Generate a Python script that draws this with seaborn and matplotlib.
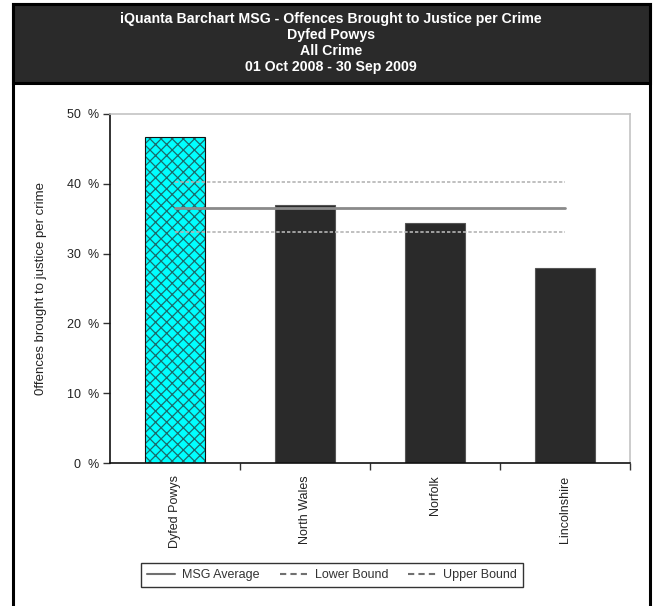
import matplotlib
matplotlib.use("Agg")
import matplotlib.pyplot as plt
import seaborn as sns
import pandas as pd
from matplotlib.patches import Rectangle
from matplotlib.lines import Line2D
from matplotlib.colors import to_rgba

# Data
forces = ["Dyfed Powys", "North Wales", "Norfolk", "Lincolnshire"]
obtj_rate = [46.7, 37.0, 34.4, 27.9]
msg_average = 36.5
lower_bound = 33.1
upper_bound = 40.2

title_lines = [
    "iQuanta Barchart MSG - Offences Brought to Justice per Crime",
    "Dyfed Powys",
    "All Crime",
    "01 Oct 2008 - 30 Sep 2009",
]

sns.set_style("white")
plt.rcParams["font.family"] = ["Liberation Sans", "DejaVu Sans"]
plt.rcParams["hatch.linewidth"] = 0.9

df = pd.DataFrame({"force": forces, "rate": obtj_rate})

W, H = 653, 606
fig = plt.figure(figsize=(W / 100, H / 100), dpi=100)
ax = fig.add_axes([110 / W, 1 - 463 / H, 520 / W, 349 / H])

colors = ["#00ffff"] + ["#2a2a2a"] * (len(forces) - 1)
sns.barplot(data=df, x="force", y="rate", hue="force", palette=colors,
            legend=False, width=0.46, ax=ax, saturation=1)

for i, bar in enumerate(ax.patches):
    if i == 0:
        bar.set_edgecolor("#111111")
        bar.set_linewidth(0.8)
        bar.set_hatch("xxx")
        bar._hatch_color = to_rgba("#1b6b6b")
    else:
        bar.set_edgecolor("#555555")
        bar.set_linewidth(0.8)

# MSG average and bounds, from first to last category
xs = list(range(len(forces)))
ax.plot(xs, [msg_average] * len(xs), color="#8a8a8a", lw=2, zorder=3)
ax.plot(xs, [upper_bound] * len(xs), color="#b5b5b5", lw=1.2,
        linestyle=(0, (2, 1.2)), zorder=3)
ax.plot(xs, [lower_bound] * len(xs), color="#b5b5b5", lw=1.2,
        linestyle=(0, (2, 1.2)), zorder=3)

ax.set_xlim(-0.5, len(forces) - 0.5)
ax.set_ylim(0, 50)
ax.set_yticks(range(0, 51, 10))
ax.set_yticklabels([f"{v}  %" for v in range(0, 51, 10)], fontsize=9,
                   color="#222222")
ax.tick_params(axis="y", direction="out", length=5, width=1, color="#333333",
               left=True, pad=3)

ax.set_xticks(xs)
ax.set_xticklabels(forces, rotation=90, fontsize=9, color="#222222",
                   va="top")
ax.tick_params(axis="x", which="major", length=0, pad=9)
ax.set_xticks([0.5, 1.5, 2.5, 3.5], minor=True)
ax.tick_params(axis="x", which="minor", direction="out", length=5, width=1,
               color="#333333", bottom=True)

ax.set_xlabel("")
ax.set_ylabel("0ffences brought to justice per crime", fontsize=9.5,
              color="#222222", labelpad=14)

for side in ["left", "bottom"]:
    ax.spines[side].set_color("#111111")
    ax.spines[side].set_linewidth(1.2)
for side in ["top", "right"]:
    ax.spines[side].set_color("#c4c4c4")
    ax.spines[side].set_linewidth(1.2)

# Header band and outer frame
fig.patches.append(Rectangle((13 / W, -0.05), 637 / W, 1 - 4 / H + 0.05,
                             transform=fig.transFigure, fill=False,
                             edgecolor="black", lw=2.2, zorder=0))
fig.patches.append(Rectangle((13 / W, 1 - 83 / H), 637 / W, 79 / H,
                             transform=fig.transFigure, facecolor="#2a2a2a",
                             edgecolor="black", lw=2.2, zorder=1))
for k, line in enumerate(title_lines):
    fig.text(331 / W, 1 - (19 + 16 * k) / H, line, ha="center", va="center",
             color="white", fontsize=10.2, fontweight="bold")

handles = [
    Line2D([], [], color="#707070", lw=1.5),
    Line2D([], [], color="#707070", lw=1.5, linestyle=(0, (3, 2))),
    Line2D([], [], color="#707070", lw=1.5, linestyle=(0, (3, 2))),
]
leg = fig.legend(handles, ["MSG Average", "Lower Bound", "Upper Bound"],
                 loc="center", bbox_to_anchor=(332 / W, 1 - 575 / H), ncol=3,
                 fontsize=9, frameon=True, fancybox=False, framealpha=1,
                 edgecolor="#333333", handlelength=2.2, columnspacing=1.6,
                 handletextpad=0.6, borderpad=0.45, borderaxespad=0)
leg.get_frame().set_linewidth(1)
for t in leg.get_texts():
    t.set_color("#333333")

fig.savefig("out.png", dpi=100)
